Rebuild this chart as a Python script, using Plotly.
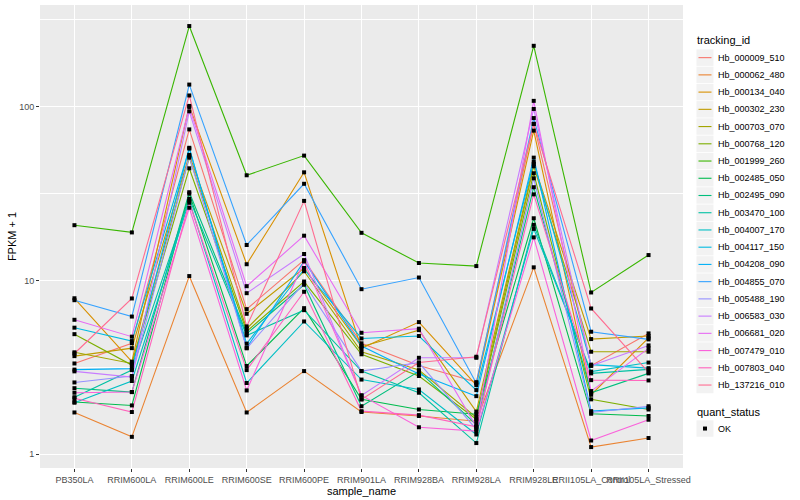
import plotly.graph_objects as go

sample_name = ["PB350LA", "RRIM600LA", "RRIM600LE", "RRIM600SE", "RRIM600PE",
               "RRIM901LA", "RRIM928BA", "RRIM928LA", "RRIM928LE",
               "RRII105LA_Control", "RRII105LA_Stressed"]

tracking_id = ["Hb_000009_510", "Hb_000062_480", "Hb_000134_040", "Hb_000302_230",
               "Hb_000703_070", "Hb_000768_120", "Hb_001999_260", "Hb_002485_050",
               "Hb_002495_090", "Hb_003470_100", "Hb_004007_170", "Hb_004117_150",
               "Hb_004208_090", "Hb_004855_070", "Hb_005488_190", "Hb_006583_030",
               "Hb_006681_020", "Hb_007479_010", "Hb_007803_040", "Hb_137216_010"]

line_colors = ["#F8766D", "#EA8331", "#D89000", "#C09B00", "#A3A500", "#7CAE00",
               "#39B600", "#00BB4E", "#00BF7D", "#00C1A3", "#00BFC4", "#00BAE0",
               "#00B0F6", "#35A2FF", "#9590FF", "#C77CFF", "#E76BF3", "#FA62DB",
               "#FF62BC", "#FF6C91"]

# FPKM + 1 per gene, in sample_name order
hb_000009_510 = [3.33, 4.35, 74.0, 6.84, 13.1, 4.35, 3.24, 2.60, 79.6, 3.23, 4.96]
hb_000062_480 = [1.74, 1.26, 10.6, 1.74, 3.01, 1.75, 1.66, 1.55, 11.9, 1.10, 1.24]
hb_000134_040 = [7.90, 3.41, 101.0, 12.4, 41.9, 4.07, 5.76, 2.50, 72.8, 2.20, 4.68]
hb_000302_230 = [3.67, 4.08, 52.8, 6.43, 11.8, 4.16, 5.18, 1.76, 46.9, 4.60, 4.79]
hb_000703_070 = [3.86, 3.33, 50.9, 5.28, 11.3, 3.89, 3.05, 1.63, 45.4, 3.89, 3.89]
hb_000768_120 = [4.91, 3.26, 44.2, 5.09, 9.86, 3.76, 2.82, 1.59, 41.4, 2.07, 1.81]
hb_001999_260 = [20.8, 18.9, 291.0, 40.3, 52.3, 18.8, 12.6, 12.1, 224.0, 8.53, 14.0]
hb_002485_050 = [2.00, 1.91, 31.6, 3.22, 6.93, 2.07, 1.81, 1.70, 22.8, 1.71, 1.66]
hb_002495_090 = [2.40, 2.28, 32.2, 4.94, 9.45, 1.89, 3.00, 1.48, 34.4, 2.26, 2.92]
hb_003470_100 = [2.13, 3.05, 29.5, 4.83, 6.75, 3.01, 2.26, 1.16, 20.9, 2.92, 3.08]
hb_004007_170 = [1.98, 2.64, 28.7, 2.57, 5.81, 2.69, 2.36, 1.30, 19.8, 2.99, 3.37]
hb_004117_150 = [5.35, 4.48, 57.4, 4.33, 11.6, 4.64, 4.79, 2.34, 48.1, 3.28, 3.13]
hb_004208_090 = [3.07, 3.11, 58.0, 4.10, 12.9, 4.20, 2.90, 2.16, 50.9, 1.77, 1.85]
hb_004855_070 = [7.70, 6.20, 134.0, 16.0, 36.0, 8.91, 10.4, 2.56, 86.0, 5.07, 4.58]
hb_005488_190 = [2.59, 2.82, 51.8, 4.07, 9.66, 3.01, 3.37, 1.39, 38.7, 1.74, 1.89]
hb_006583_030 = [3.00, 2.78, 94.0, 8.45, 14.2, 2.18, 3.59, 3.59, 97.0, 3.23, 4.23]
hb_006681_020 = [5.94, 4.75, 99.6, 9.27, 18.1, 5.00, 5.28, 1.44, 108.0, 2.31, 4.07]
hb_007479_010 = [2.26, 2.28, 26.2, 2.33, 12.9, 2.18, 1.43, 1.36, 17.7, 1.20, 1.58]
hb_007803_040 = [2.10, 1.75, 28.0, 3.05, 8.61, 1.77, 1.68, 1.44, 31.3, 2.67, 2.66]
hb_137216_010 = [3.80, 7.88, 116.0, 5.44, 28.7, 2.07, 3.37, 3.64, 79.6, 6.90, 2.96]

series = [hb_000009_510, hb_000062_480, hb_000134_040, hb_000302_230, hb_000703_070,
          hb_000768_120, hb_001999_260, hb_002485_050, hb_002495_090, hb_003470_100,
          hb_004007_170, hb_004117_150, hb_004208_090, hb_004855_070, hb_005488_190,
          hb_006583_030, hb_006681_020, hb_007479_010, hb_007803_040, hb_137216_010]

quant_status = ["OK"]

FONT = "Liberation Sans, Arial, sans-serif"
W_PX, H_PX = 800, 500
M_L, M_R, M_T, M_B = 40, 116.5, 5, 31.5
PW = W_PX - M_L - M_R
PH = H_PX - M_T - M_B


def px_x(px):
    return (px - M_L) / PW


def px_y(py):
    return 1 - (py - M_T) / PH


fig = go.Figure()
for name, col, vals in zip(tracking_id, line_colors, series):
    fig.add_trace(go.Scatter(
        x=sample_name, y=vals, mode="lines", name=name,
        line=dict(color=col, width=1.1), showlegend=False, hoverinfo="name+y"))

all_x, all_y = [], []
for vals in series:
    all_x += sample_name
    all_y += vals
fig.add_trace(go.Scatter(
    x=all_x, y=all_y, mode="markers", name=quant_status[0],
    marker=dict(symbol="square", size=4, color="black"), showlegend=False))

# ---- manual ggplot-style legend ----
shapes, annots = [], []
KEY_X0, KEY_X1 = 697, 714
TXT_X = 716.5
first_c, step = 57.7, 17.25

annots.append(dict(text="tracking_id", x=px_x(695.5), y=px_y(40), xref="paper", yref="paper",
                   xanchor="left", yanchor="middle", showarrow=False,
                   font=dict(family=FONT, size=11, color="black")))
for i, (name, col) in enumerate(zip(tracking_id, line_colors)):
    c = first_c + i * step
    shapes.append(dict(type="rect", xref="paper", yref="paper",
                       x0=px_x(KEY_X0), x1=px_x(KEY_X1),
                       y0=px_y(c + step / 2 - 0.4), y1=px_y(c - step / 2 + 0.4),
                       fillcolor="#F2F2F2", line=dict(width=0), layer="above"))
    shapes.append(dict(type="line", xref="paper", yref="paper",
                       x0=px_x(699), x1=px_x(712), y0=px_y(c), y1=px_y(c),
                       line=dict(color=col, width=1.1), layer="above"))
    annots.append(dict(text=name, x=px_x(TXT_X), y=px_y(c), xref="paper", yref="paper",
                       xanchor="left", yanchor="middle", showarrow=False,
                       font=dict(family=FONT, size=9, color="black")))

annots.append(dict(text="quant_status", x=px_x(695.5), y=px_y(412), xref="paper", yref="paper",
                   xanchor="left", yanchor="middle", showarrow=False,
                   font=dict(family=FONT, size=11, color="black")))
ok_c = 429
shapes.append(dict(type="rect", xref="paper", yref="paper",
                   x0=px_x(KEY_X0), x1=px_x(KEY_X1),
                   y0=px_y(ok_c + 8.2), y1=px_y(ok_c - 8.2),
                   fillcolor="#F2F2F2", line=dict(width=0), layer="above"))
shapes.append(dict(type="rect", xref="paper", yref="paper",
                   x0=px_x(703.5), x1=px_x(707.5), y0=px_y(ok_c + 2), y1=px_y(ok_c - 2),
                   fillcolor="black", line=dict(width=0), layer="above"))
annots.append(dict(text=quant_status[0], x=px_x(TXT_X), y=px_y(ok_c), xref="paper", yref="paper",
                   xanchor="left", yanchor="middle", showarrow=False,
                   font=dict(family=FONT, size=9, color="black")))

tick_font = dict(family=FONT, size=9, color="#4D4D4D")

fig.update_layout(
    width=W_PX, height=H_PX,
    margin=dict(l=M_L, r=M_R, t=M_T, b=M_B),
    paper_bgcolor="white", plot_bgcolor="#EBEBEB",
    font=dict(family=FONT, size=11, color="black"),
    showlegend=False,
    shapes=shapes, annotations=annots,
    xaxis=dict(
        type="category", categoryorder="array", categoryarray=sample_name,
        range=[-0.6, 10.6], showgrid=True, gridcolor="white", gridwidth=1.1,
        zeroline=False, showline=False, ticks="outside", ticklen=3,
        tickcolor="#333333", tickfont=tick_font, tickangle=0, automargin=False,
        title=dict(text="sample_name", font=dict(family=FONT, size=11), standoff=0)),
    yaxis=dict(
        type="log", range=[-0.079, 2.585],
        tickvals=[1, 10, 100], ticktext=["1", "10", "100"],
        showgrid=True, gridcolor="white", gridwidth=1.1,
        minor=dict(tickvals=[3.1623, 31.623, 316.23], showgrid=True,
                   gridcolor="white", gridwidth=0.5, ticks=""),
        zeroline=False, showline=False, ticks="outside", ticklen=3,
        tickcolor="#333333", tickfont=tick_font, automargin=False,
        title=dict(text="FPKM + 1", font=dict(family=FONT, size=11), standoff=0)),
)

fig.write_html("out.html", config={"displayModeBar": False},
               post_script="document.body.style.margin='0';")
